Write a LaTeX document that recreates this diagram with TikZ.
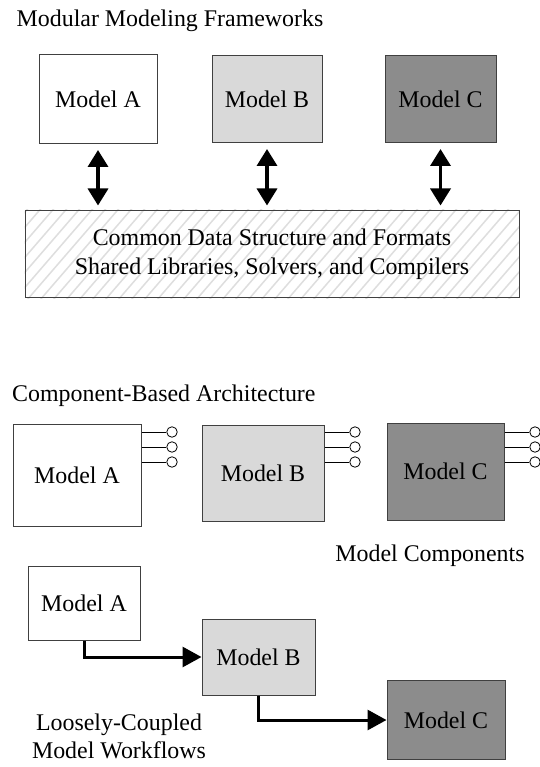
\documentclass[tikz,border=0pt]{standalone}
\usepackage{fontspec}
\setmainfont{Liberation Serif}
\usetikzlibrary{arrows.meta,backgrounds}
\definecolor{edge}{HTML}{404040}
\definecolor{lite}{HTML}{D9D9D9}
\definecolor{dark}{HTML}{8C8C8C}
\definecolor{hatch}{HTML}{DEDEDE}
\newcommand{\figfont}{\fontsize{23.9pt}{28pt}\selectfont}
\tikzset{ m/.style = { rectangle % model box
        , draw = edge
        , line width = 1pt
        , inner sep = 0pt
        , font = \figfont
        }
        , t/.style = { inner sep = 0pt % free text
        , font = \figfont
        , align = center
        }
        , p/.style = { circle % port
        , draw = black
        , fill = white
        , line width = 0.8pt
        , minimum size = 10.5pt
        , inner sep = 0pt
        }
        , link/.style = { draw = black % two-way link
        , line width = 3.5pt
        , {Triangle[width=20pt,length=17pt]}-{Triangle[width=20pt,length=17pt]}
        }
        , flow/.style = { draw = black % workflow step
        , line width = 3pt
        , -{Triangle[width=20pt,length=19pt]}
        }
        }

\begin{document}
\begin{tikzpicture}[x=1pt, y=-1pt]
\useasboundingbox (0,0) rectangle (539,767);

% modular modeling frameworks
\node [t, anchor=base west] (title1) at (16.5,27) {Modular Modeling Frameworks};
\node [m, fill=white, minimum width=118pt, minimum height=89pt] (tA) at (98,99.5) {Model A};
\node [m, fill=lite, minimum width=110pt, minimum height=87pt] (tB) at (267,99.5) {Model B};
\node [m, fill=dark, minimum width=111pt, minimum height=87pt] (tC) at (440.5,99.5) {Model C};
\node [m, minimum width=494pt, minimum height=87pt, align=center,
       font=\fontsize{23.9pt}{29pt}\selectfont] (frame) at (272,254)
      {Common Data Structure and Formats\\Shared Libraries, Solvers, and Compilers};
\begin{scope}[on background layer]
  \fill [white] (frame.north west) rectangle (frame.south east);
  \clip (frame.north west) rectangle (frame.south east);
  \foreach \x in {-90,-77,...,530}
    \draw [hatch, line width=1.5pt] (\x,300) -- ++(95,-110);
\end{scope}
\draw [link, shorten <=5.5pt, shorten >=4.5pt] (tA.south) -- (tA.south |- frame.north);
\draw [link, shorten <=5.5pt, shorten >=4.5pt] (tB.south) -- (tB.south |- frame.north);
\draw [link, shorten <=5.5pt, shorten >=4.5pt] (tC.south) -- (tC.south |- frame.north);

% component-based architecture
\node [t, anchor=base west] (title2) at (12,401) {Component-Based Architecture};
\node [m, fill=white, minimum width=128pt, minimum height=102pt] (cA) at (77,475) {Model A};
\node [m, fill=lite, minimum width=122pt, minimum height=96pt] (cB) at (263,473) {Model B};
\node [m, fill=dark, minimum width=117pt, minimum height=97pt] (cC) at (445.5,471.5) {Model C};
\foreach \b in {A,B,C}
  \foreach \i/\y in {1/432,2/447,3/462}
  { \node [p, xshift=30.5pt] (p\b\i) at (c\b.east |- 0,\y) {};
    \draw [line width=0.8pt] (c\b.east |- p\b\i) -- (p\b\i); }
\node [t, anchor=base] (comp) at (430,561) {Model Components};

% loosely-coupled model workflows
\node [m, fill=white, minimum width=112pt, minimum height=74pt] (wA) at (84,603.3) {Model A};
\node [m, fill=lite, minimum width=113pt, minimum height=76pt] (wB) at (258.5,657) {Model B};
\node [m, fill=dark, minimum width=118pt, minimum height=79pt] (wC) at (446,720) {Model C};
\draw [flow] (wA.south) |- (wB.west);
\draw [flow] (wB.south) |- (wC.west);
\node [t, font=\fontsize{23.9pt}{27.6pt}\selectfont] (wflow) at (119,736.4)
      {Loosely-Coupled\\Model Workflows};
\end{tikzpicture}
\end{document}
